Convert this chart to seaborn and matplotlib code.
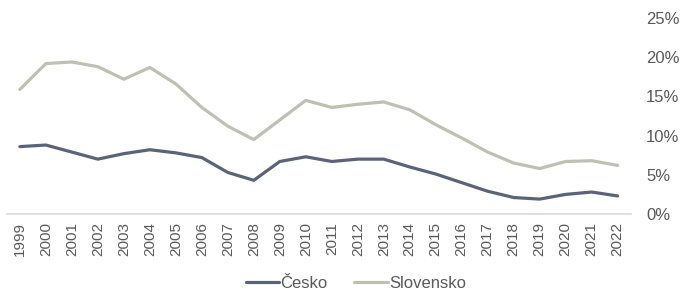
import matplotlib
matplotlib.use("Agg")
import matplotlib.pyplot as plt
import seaborn as sns
import pandas as pd
from matplotlib.ticker import FuncFormatter

years = list(range(1999, 2023))
cesko = [8.6, 8.8, 7.9, 7.0, 7.7, 8.2, 7.8, 7.2, 5.3, 4.3, 6.7, 7.3, 6.7, 7.0, 7.0, 6.0,
         5.1, 4.0, 2.9, 2.1, 1.9, 2.5, 2.8, 2.3]
slovensko = [15.9, 19.2, 19.4, 18.8, 17.2, 18.7, 16.6, 13.6, 11.2, 9.5, 12.0, 14.5, 13.6,
             14.0, 14.3, 13.3, 11.4, 9.7, 7.9, 6.5, 5.8, 6.7, 6.8, 6.2]
series_names = ["Česko", "Slovensko"]
colors = ["#5b6378", "#bfc0b4"]

df = pd.DataFrame({
    "rok": years * 2,
    "hodnota": cesko + slovensko,
    "země": [series_names[0]] * len(years) + [series_names[1]] * len(years),
})

sns.set_theme(style="white")
plt.rcParams["font.family"] = ["Liberation Sans", "DejaVu Sans"]

fig = plt.figure(figsize=(6.9, 3.07), dpi=100)
ax = fig.add_axes([0.010, 0.303, 0.904, 0.638])

sns.lineplot(data=df, x="rok", y="hodnota", hue="země", palette=colors,
             linewidth=2.3, ax=ax, legend=False)

ax.set_xlim(1998.5, 2022.5)
ax.set_ylim(0, 25)
ax.set_xticks(years)
ax.set_xticklabels([str(y) for y in years], rotation=90, fontsize=11, color="#595959")
ax.set_yticks([0, 5, 10, 15, 20, 25])
ax.yaxis.set_major_formatter(FuncFormatter(lambda v, p: f"{int(v)}%"))
ax.yaxis.tick_right()
ax.tick_params(axis="y", length=0, pad=11, labelsize=12, labelcolor="#595959")
ax.tick_params(axis="x", length=0, pad=6)
ax.set_xlabel("")
ax.set_ylabel("")
for s in ["top", "left", "right"]:
    ax.spines[s].set_visible(False)
ax.spines["bottom"].set_color("#d9d9d9")
ax.spines["bottom"].set_linewidth(1.2)

from matplotlib.lines import Line2D
handles = [Line2D([0], [0], color=c, linewidth=2.3) for c in colors]
fig.legend(handles, series_names, loc="center", bbox_to_anchor=(356 / 690, 0.078),
           ncol=2, frameon=False, handlelength=2.0, handletextpad=0.1,
           columnspacing=1.6, fontsize=12, labelcolor="#595959")

fig.savefig("out.png", dpi=100)
